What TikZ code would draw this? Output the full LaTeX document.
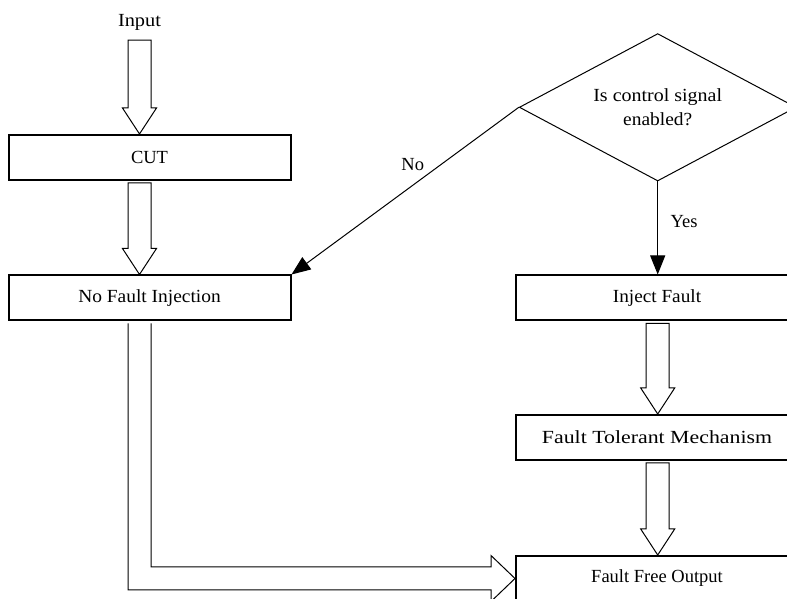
\documentclass[tikz,border=0pt]{standalone}
\usepackage{graphicx}
\usepackage{fontspec}
\setmainfont{Liberation Serif}
\usetikzlibrary{calc}
\usetikzlibrary{arrows.meta}
\usetikzlibrary{shapes.geometric}

\tikzset{
  procbox/.style={draw, line width=2pt, minimum width=282pt, minimum height=45pt, inner sep=0pt},
  hollow/.style={draw, line width=1pt, fill=white, line join=miter},
  flow/.style={line width=1pt, -{Triangle[length=19pt,width=15pt]}},
}
% text drawn a little wider than the font gives
\newcommand{\widened}[2]{\scalebox{#1}[1]{#2}}
% hollow block arrow pointing down, from #1 to #2
\newcommand{\blockdown}[2]{%
\draw[hollow] let \p1=(#1), \p2=(#2) in
 (\x1-11.5pt,\y1-2pt) -- (\x1-11.5pt,\y2+26pt) -- (\x1-17pt,\y2+26pt) -- (\x1,\y2)
 -- (\x1+17pt,\y2+26pt) -- (\x1+11.5pt,\y2+26pt) -- (\x1+11.5pt,\y1-2pt) -- cycle;
}

\begin{document}
\begin{tikzpicture}[x=1pt, y=1pt, font=\fontsize{18.5}{23}\selectfont]
\useasboundingbox (0,0) rectangle (787,599);
% left column
\node[inner ysep=7.5pt] (input) at (139.5,576.5) {\widened{1.1}{Input}};
\node[procbox] (cut) at (149.5,441.5) {CUT};
\node[procbox] (nfi) at (149.5,301) {\widened{1.05}{No Fault Injection}};
% right column
\node[draw, diamond, aspect=1.88, minimum width=276.8pt, minimum height=147.4pt,
      inner sep=0pt, line width=1pt, align=center] (ctrl) at (657.7,491.7)
      {\widened{1.08}{Is control signal}\\[1pt]\widened{1.05}{enabled?}};
\node[procbox] (inj) at (657,301) {\widened{1.04}{Inject Fault}};
\node[procbox] (ftm) at (657,161.5) {\widened{1.18}{Fault Tolerant Mechanism}};
\node[procbox] (ffo) at (657,20.5) {Fault Free Output};

\blockdown{input.south}{input.south |- cut.north}
\blockdown{input.south |- cut.south}{input.south |- nfi.north}
\blockdown{ctrl.south |- inj.south}{ctrl.south |- ftm.north}
\blockdown{ctrl.south |- ftm.south}{ctrl.south |- ffo.north}

% bent arrow into the output box
\draw[hollow, fill=none] let \p1=(input.south |- nfi.south), \p2=(ffo.west) in
 (\x1-11.5pt,\y1-2pt) -- (\x1-11.5pt,\y2-11.5pt) -- (\x2-24pt,\y2-11.5pt) -- (\x2-24pt,\y2-23pt)
 -- (\x2,\y2) -- (\x2-24pt,\y2+23pt) -- (\x2-24pt,\y2+11.5pt) -- (\x1+11.5pt,\y2+11.5pt)
 -- (\x1+11.5pt,\y1-2pt);

\draw[flow] (ctrl.west) -- (nfi.north east) node[pos=0.4, above left] {No};
\draw[flow] (ctrl.south) -- (ctrl.south |- inj.north) node[pos=0.43, right, xshift=9pt] {Yes};
\end{tikzpicture}
\end{document}
